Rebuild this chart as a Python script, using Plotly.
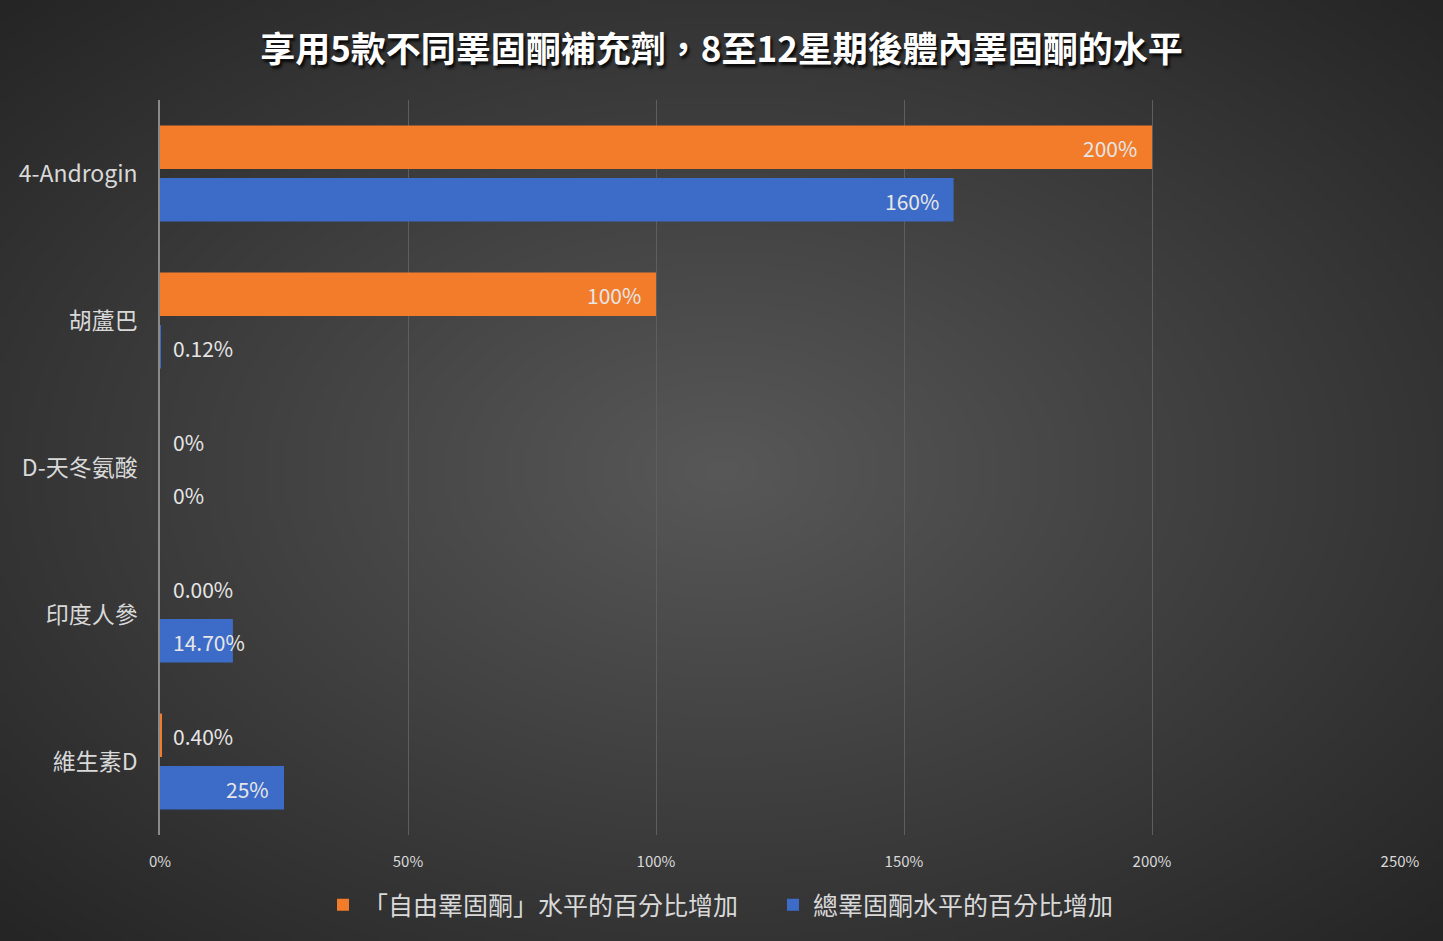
import base64, struct, zlib
import numpy as np
import plotly.graph_objects as go

# ---- data ----
categories = ["4-Androgin", "胡蘆巴", "D-天冬氨酸", "印度人參", "維生素D"]
free_values = [200, 100, 0, 0, 0.4]
total_values = [160, 0.12, 0, 14.7, 25]
free_labels = ["200%", "100%", "0%", "0.00%", "0.40%"]
total_labels = ["160%", "0.12%", "0%", "14.70%", "25%"]
series_names = ["「自由睪固酮」水平的百分比增加", "總睪固酮水平的百分比增加"]
title_text = "享用5款不同睪固酮補充劑，8至12星期後體內睪固酮的水平"
x_ticks = [0, 50, 100, 150, 200, 250]
x_tick_labels = ["0%", "50%", "100%", "150%", "200%", "250%"]

W, H = 1443, 941
ML, MR, MT, MB = 160, 43, 100, 106
PW, PH = W - ML - MR, H - MT - MB

FONT = "Noto Sans CJK TC"
TXT = "#d9d9d9"
ORANGE = "#F27C2A"
BLUE = "#3D6CC8"


def radial_png(w, h, c_center, c_edge):
    yy, xx = np.mgrid[0:h, 0:w]
    dx = (xx / (w - 1) - 0.5) / 0.5
    dy = (yy / (h - 1) - 0.5) / 0.5
    d = np.sqrt(dx ** 2 + dy ** 2) / np.sqrt(2)
    v = (c_center - (c_center - c_edge) * d).clip(0, 255).astype(np.uint8)
    img = np.stack([v, v, v], axis=-1)
    raw = b"".join(b"\x00" + img[j].tobytes() for j in range(h))

    def chunk(t, dat):
        c = struct.pack(">I", len(dat)) + t + dat
        return c + struct.pack(">I", zlib.crc32(t + dat) & 0xFFFFFFFF)

    png = (b"\x89PNG\r\n\x1a\n"
           + chunk(b"IHDR", struct.pack(">IIBBBBB", w, h, 8, 2, 0, 0, 0))
           + chunk(b"IDAT", zlib.compress(raw, 9))
           + chunk(b"IEND", b""))
    return "data:image/png;base64," + base64.b64encode(png).decode()


bg = radial_png(361, 236, 0x58, 0x25)

fig = go.Figure()
fig.add_trace(go.Bar(y=categories, x=free_values, orientation="h", name=series_names[0],
                     marker=dict(color=ORANGE, line=dict(width=0)), hoverinfo="x+y"))
fig.add_trace(go.Bar(y=categories, x=total_values, orientation="h", name=series_names[1],
                     marker=dict(color=BLUE, line=dict(width=0)), hoverinfo="x+y"))

annotations = []
for vals, labels, shift in [(free_values, free_labels, 26), (total_values, total_labels, -27)]:
    for cat, v, lab in zip(categories, vals, labels):
        if v >= 20:
            ax, anchor, xs = v, "right", -13
        else:
            ax, anchor, xs = 0, "left", 11
        annotations.append(dict(x=ax, y=cat, xref="x", yref="y", text=lab, showarrow=False,
                                xanchor=anchor, xshift=xs, yshift=shift,
                                font=dict(family=FONT, size=21, color="#e6e6e6")))

fig.update_layout(
    width=W, height=H,
    margin=dict(l=ML, r=MR, t=MT, b=MB),
    paper_bgcolor="#3a3a3a",
    plot_bgcolor="rgba(0,0,0,0)",
    barmode="group", bargap=0.285, bargroupgap=0.17,
    title=dict(text=title_text, x=0.5, xanchor="center", xref="container",
               y=1 - 50 / H, yanchor="middle", yref="container",
               font=dict(family=FONT, size=35, color="#ffffff", weight="bold",
                         shadow="2px 3px 3px rgba(0,0,0,0.85)")),
    xaxis=dict(range=[0, 250], tickvals=x_ticks, ticktext=x_tick_labels, showgrid=True,
               gridcolor="#5e5e5e", gridwidth=1, zeroline=False, showline=False,
               ticklabelstandoff=16,
               tickfont=dict(family=FONT, size=15, color=TXT)),
    yaxis=dict(type="category", categoryorder="array", categoryarray=categories,
               autorange="reversed", showline=True, linecolor="#8a8a8a", linewidth=1.5,
               showgrid=False, ticklabelstandoff=16,
               tickfont=dict(family=FONT, size=23, color=TXT)),
    legend=dict(orientation="h", x=(345 - 22) / W, xanchor="left", xref="container",
                y=1 - 905 / H, yanchor="middle", yref="container",
                entrywidth=405,
                font=dict(family=FONT, size=25, color=TXT),
                bgcolor="rgba(0,0,0,0)", itemclick=False),
    annotations=annotations,
    images=[dict(source=bg, xref="paper", yref="paper",
                 x=-ML / PW, y=1 + MT / PH, sizex=W / PW, sizey=H / PH,
                 xanchor="left", yanchor="top", sizing="stretch", layer="below")],
    showlegend=True,
)

fig.write_html("out.html", config={"displayModeBar": False})
with open("out.html", "r", encoding="utf-8") as f:
    html = f.read()
html = html.replace("<head>", "<head><style>html,body{margin:0;padding:0;overflow:hidden;}</style>", 1)
with open("out.html", "w", encoding="utf-8") as f:
    f.write(html)
